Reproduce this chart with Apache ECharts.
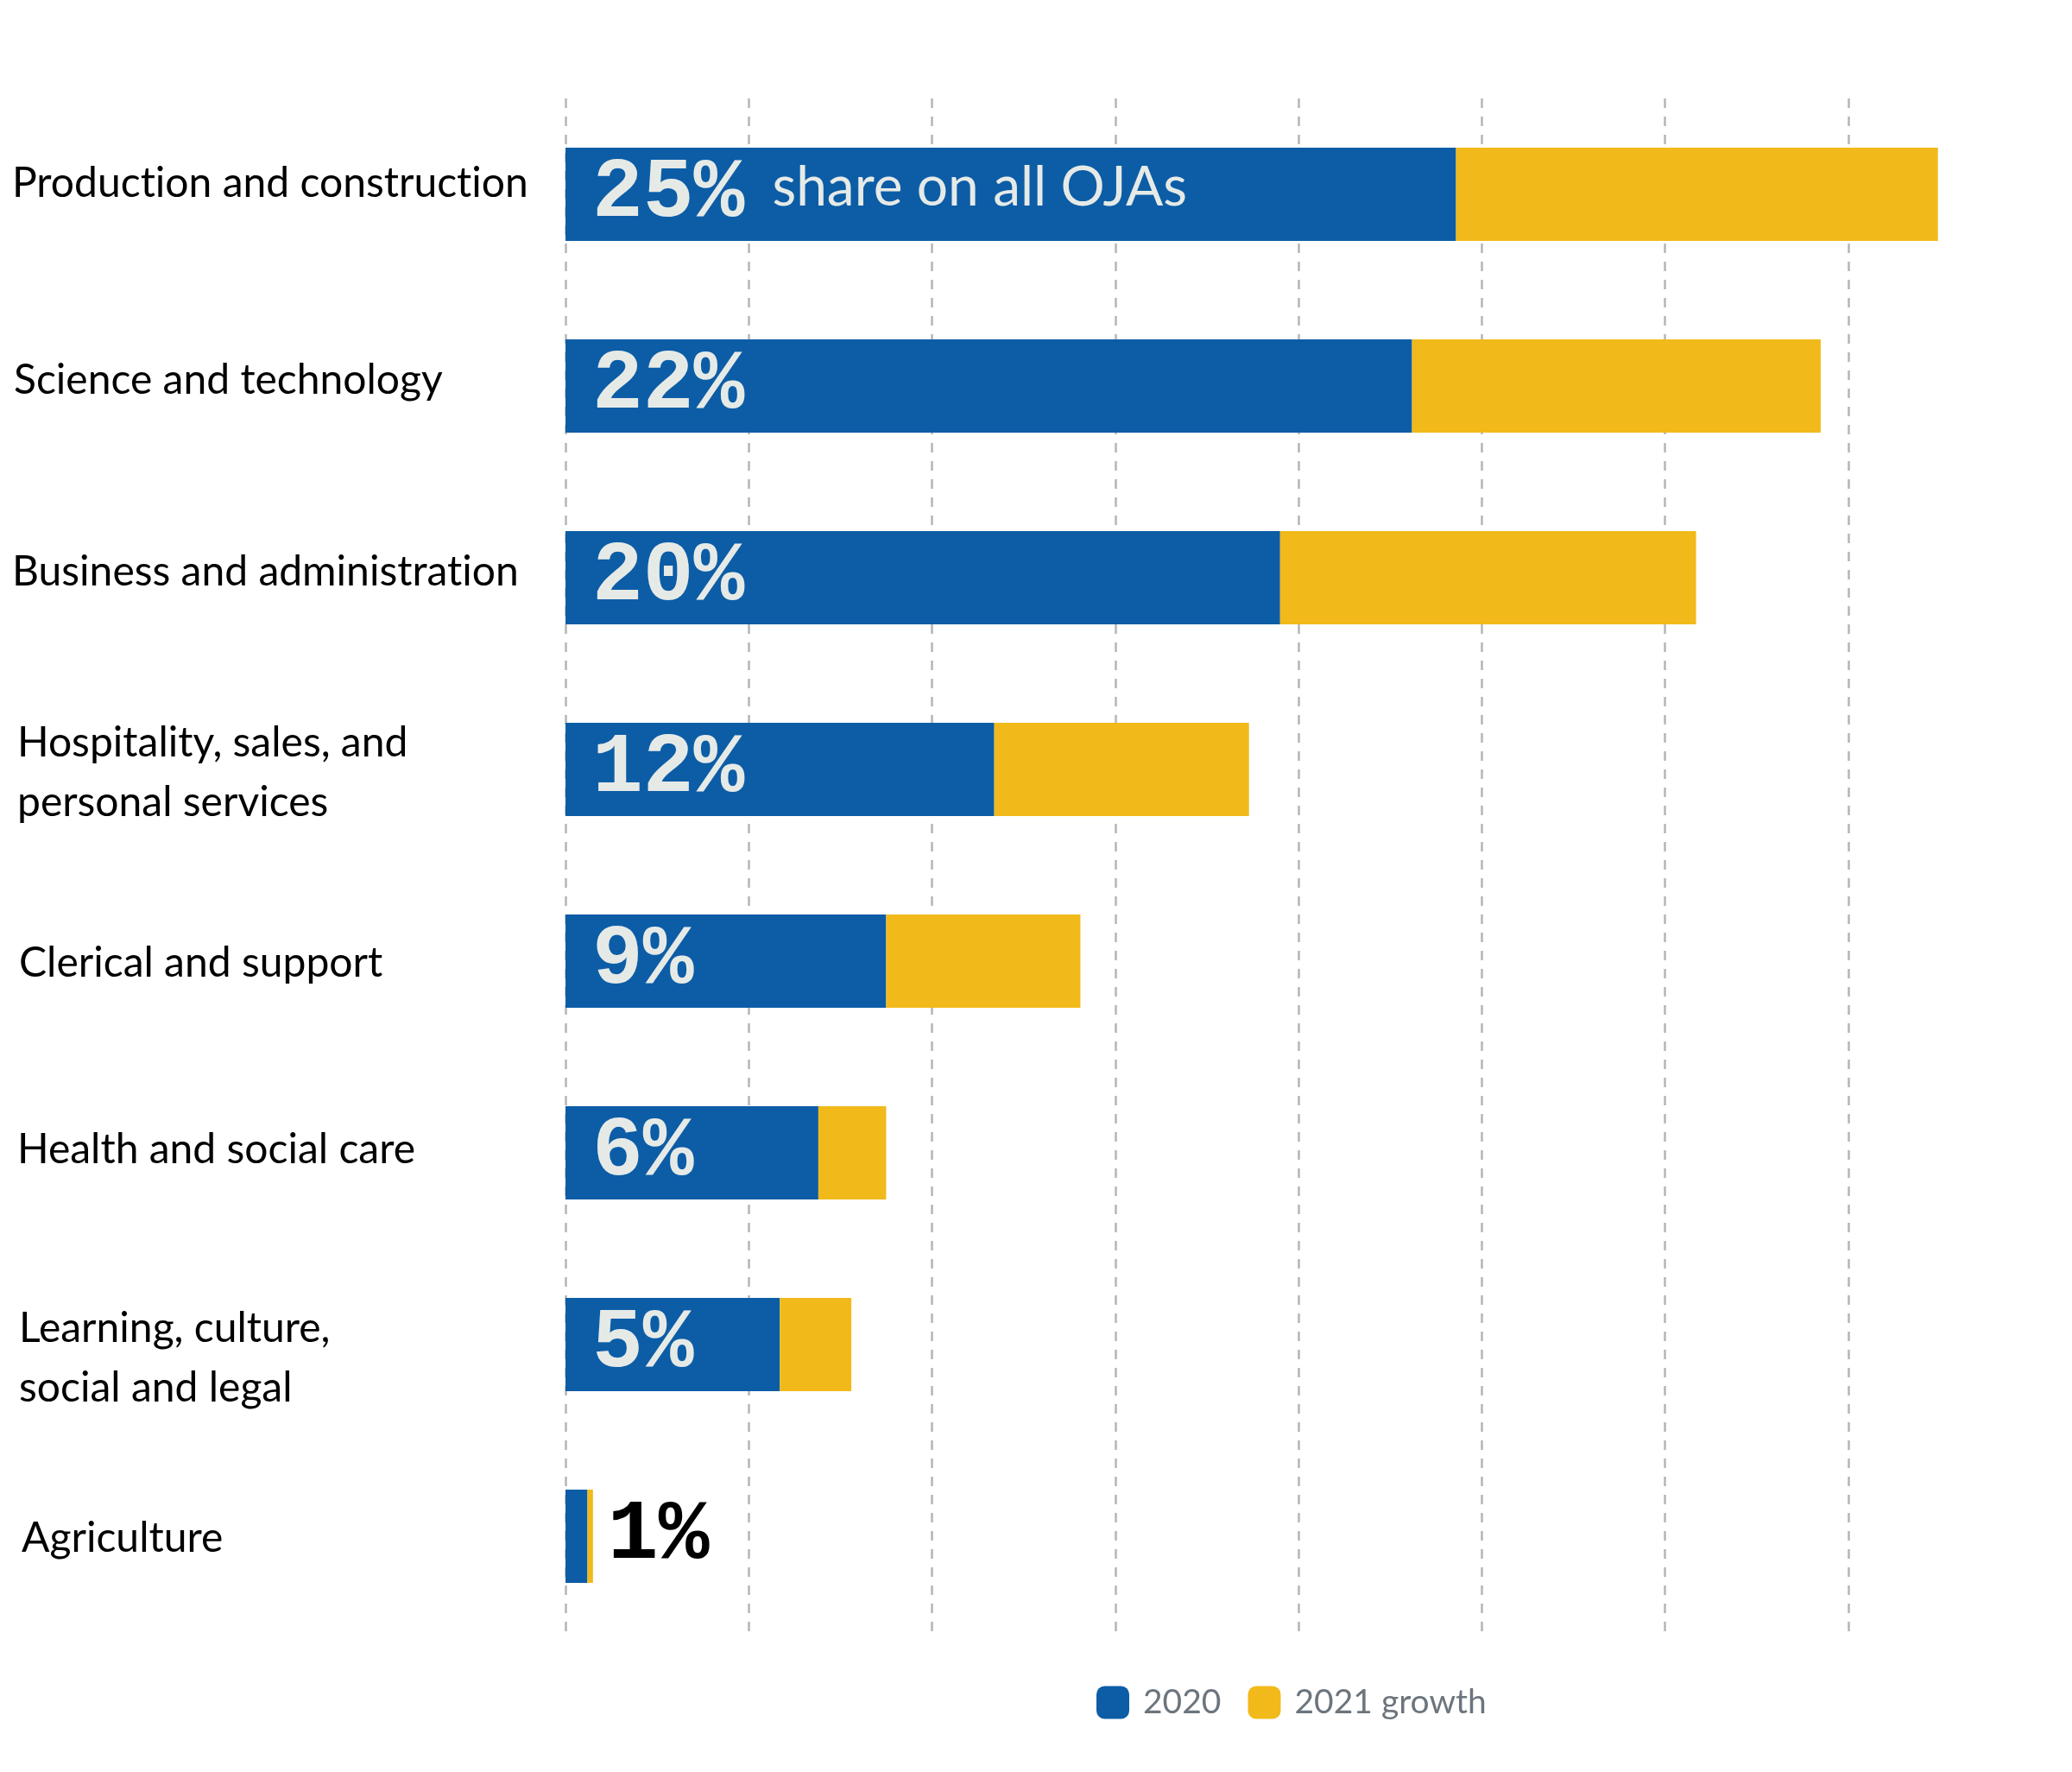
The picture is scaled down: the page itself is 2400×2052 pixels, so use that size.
<!DOCTYPE html>
<html>
<head>
<meta charset="utf-8">
<script src="https://cdn.jsdelivr.net/npm/echarts@6/dist/echarts.min.js"></script>
<style>
html,body{margin:0;padding:0;background:#fff;}
#chart{width:2400px;height:2052px;}
</style>
</head>
<body>
<div id="chart"></div>
<script>
// Categories (top to bottom)
const categories = [
  "Production and construction",
  "Science and technology",
  "Business and administration",
  "Hospitality, sales, and\npersonal services",
  "Clerical and support",
  "Health and social care",
  "Learning, culture,\nsocial and legal",
  "Agriculture"
];
// Online job ads (thousands)
const values2020 = [48.6, 46.2, 39.0, 23.4, 17.5, 13.8, 11.7, 1.2];
const growth2021 = [26.3, 22.3, 22.7, 13.9, 10.6, 3.7, 3.9, 0.3];
// Share on all OJAs (%)
const shares = [25, 22, 20, 12, 9, 6, 5, 1];
const seriesNames = ["2020", "2021 growth"];

const BLUE = "#0C5DA6", YELLOW = "#F1BA1A";
const pctFont = "'Liberation Mono', 'DejaVu Sans Mono', monospace";
const PCT_SIZE = 98;

// small per-label nudges [left, vertical] to follow the reference layout
const labelNudge = [[0, -12], [2, -6], [0, -6], [6, 4], [8, 3], [6, -3], [8, 16], [11, 3]];

const chart = echarts.init(document.getElementById('chart'));
const lastIdx = categories.length - 1;

const rich = {};
labelNudge.forEach((n, i) => {
  const dy = n[1];
  rich['c' + i] = {
    fontFamily: 'Lato', fontSize: 48, color: '#000', lineHeight: 69,
    padding: [dy > 0 ? 2 * dy : 0, 0, dy < 0 ? -2 * dy : 0, n[0]]
  };
});

const blueData = values2020.map((v, i) => {
  const item = { value: v };
  if (i === lastIdx) item.label = { show: false };
  return item;
});
const yellowData = growth2021.map((v, i) => {
  const item = { value: v };
  if (i === lastIdx) {
    item.label = {
      show: true, position: 'right', distance: 17,
      formatter: shares[i] + '%',
      fontFamily: pctFont, fontWeight: 'bold', fontSize: PCT_SIZE, color: '#000'
    };
  }
  return item;
});

chart.setOption({
  backgroundColor: '#ffffff',
  animation: false,
  grid: { left: 655, right: 47, top: 114, bottom: 162, containLabel: false },
  legend: {
    data: seriesNames,
    left: 1265, top: 1947,
    icon: 'roundRect',
    itemWidth: 38, itemHeight: 38,
    itemGap: 31,
    textStyle: { fontFamily: 'Lato', fontSize: 39, color: '#6c757d', padding: [0, 0, 0, 11] }
  },
  xAxis: {
    type: 'value', min: 0, max: 80, interval: 10,
    axisLabel: { show: false }, axisLine: { show: false }, axisTick: { show: false },
    splitLine: { show: true, showMaxLine: false, lineStyle: { color: '#b3b6b9', width: 2.5, type: [11, 10] } }
  },
  yAxis: {
    type: 'category', data: categories, inverse: true,
    axisLine: { show: false }, axisTick: { show: false },
    axisLabel: {
      align: 'left', margin: 641,
      fontFamily: 'Lato', fontSize: 48, color: '#000', lineHeight: 69,
      formatter: (val, idx) => {
        // break the Lato "ti" ligature so text renders like the reference
        const txt = val.replace(/ti/g, 't\u200Ci');
        return txt.split('\n').map(line => '{c' + idx + '|' + line + '}').join('\n');
      },
      rich: rich
    }
  },
  series: [
    {
      name: seriesNames[0], type: 'bar', stack: 'total', barWidth: 108,
      itemStyle: { color: BLUE },
      data: blueData,
      label: {
        show: true, position: 'insideLeft', distance: 31,
        formatter: (p) => p.dataIndex === 0
          ? '{p|' + shares[p.dataIndex] + '%}{s|share on all OJAs}'
          : '{p|' + shares[p.dataIndex] + '%}',
        rich: {
          p: { fontFamily: pctFont, fontWeight: 'bold', fontSize: PCT_SIZE, color: '#e6eae7' },
          s: { fontFamily: 'Lato', fontSize: 64, color: '#e6eae7', verticalAlign: 'middle', padding: [0, 0, 16, 32] }
        }
      }
    },
    {
      name: seriesNames[1], type: 'bar', stack: 'total', barWidth: 108,
      itemStyle: { color: YELLOW },
      data: yellowData,
      label: { show: false }
    }
  ]
});
</script>
</body>
</html>
